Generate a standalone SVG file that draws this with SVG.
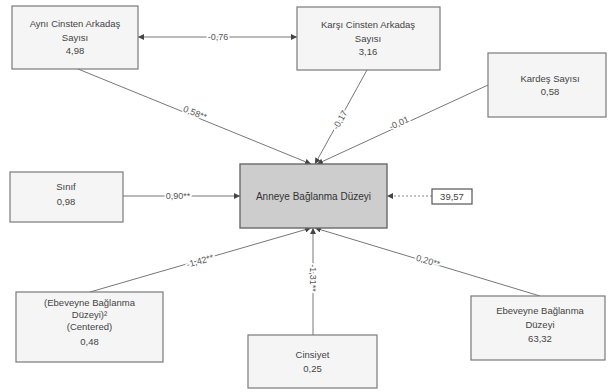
<svg xmlns="http://www.w3.org/2000/svg" width="608" height="392" viewBox="0 0 608 392">
<style>
.box{fill:#f5f5f5;stroke:#7a7a7a;stroke-width:1.2}
.main{fill:#cdcdcd;stroke:#6a6a6a;stroke-width:1.4}
.t{font-family:"Liberation Sans",Arial,sans-serif;font-size:9.5px;fill:#444;text-anchor:middle}
.tm{font-family:"Liberation Sans",Arial,sans-serif;font-size:10px;fill:#333;text-anchor:middle}
.lbl{font-family:"Liberation Sans",Arial,sans-serif;font-size:9px;fill:#555;text-anchor:middle;stroke:#fff;stroke-width:3;paint-order:stroke}
.ln{stroke:#777;stroke-width:1;fill:none}
.dash{stroke:#888;stroke-width:1;fill:none;stroke-dasharray:2 2}
</style>
<defs>
<marker id="ah" viewBox="0 0 8 8" refX="8" refY="4" markerWidth="6" markerHeight="6" orient="auto-start-reverse" markerUnits="userSpaceOnUse">
<path d="M0,0 L8,4 L0,8 z" fill="#444"/>
</marker>
</defs>
<rect width="608" height="392" fill="#fff"/>
<g id="connectors">
<line class="ln" x1="138" y1="37" x2="297" y2="37" marker-start="url(#ah)" marker-end="url(#ah)"/>
<line class="ln" x1="78" y1="69" x2="311" y2="164" marker-end="url(#ah)"/>
<line class="ln" x1="367" y1="70" x2="315" y2="164" marker-end="url(#ah)"/>
<line class="ln" x1="488" y1="85" x2="317" y2="164" marker-end="url(#ah)"/>
<line class="ln" x1="123" y1="196" x2="240" y2="196" marker-end="url(#ah)"/>
<line class="dash" x1="432" y1="196" x2="387" y2="196" marker-end="url(#ah)"/>
<line class="ln" x1="90" y1="292" x2="311" y2="228" marker-end="url(#ah)"/>
<line class="ln" x1="313" y1="335" x2="313" y2="228" marker-end="url(#ah)"/>
<line class="ln" x1="540" y1="296" x2="315" y2="228" marker-end="url(#ah)"/>
<text class="lbl" x="218" y="40">-0,76</text>
<text class="lbl" x="195" y="116" transform="rotate(21.5 195 113)">0,58**</text>
<text class="lbl" x="340" y="123" transform="rotate(-60 340 120)">-0,17</text>
<text class="lbl" x="399" y="126" transform="rotate(-24.3 399 123)">-0,01</text>
<text class="lbl" x="178" y="199">0,90**</text>
<text class="lbl" x="200" y="264" transform="rotate(-16 200 261)">-1,42**</text>
<text class="lbl" x="313" y="281" transform="rotate(90 313 278)">-1,31**</text>
<text class="lbl" x="428" y="264" transform="rotate(16.5 428 261)">0,20**</text>
</g>
<g id="n_ayni">
<rect class="box" x="12" y="6" width="126" height="63"/>
<text class="t" x="75" y="26.5">Aynı Cinsten Arkadaş</text>
<text class="t" x="75" y="40.5">Sayısı</text>
<text class="t" x="75" y="54">4,98</text>
</g>
<g id="n_karsi">
<rect class="box" x="297" y="7" width="143" height="63"/>
<text class="t" x="368" y="28">Karşı Cinsten Arkadaş</text>
<text class="t" x="368" y="42">Sayısı</text>
<text class="t" x="368" y="55">3,16</text>
</g>
<g id="n_kardes">
<rect class="box" x="488" y="53" width="118" height="64"/>
<text class="t" x="550" y="82">Kardeş Sayısı</text>
<text class="t" x="550" y="95">0,58</text>
</g>
<g id="n_sinif">
<rect class="box" x="10" y="172" width="113" height="50"/>
<text class="t" x="66" y="190">Sınıf</text>
<text class="t" x="66" y="205">0,98</text>
</g>
<g id="n_anne">
<rect class="main" x="240" y="164" width="147" height="64"/>
<text class="tm" x="313.5" y="199.5">Anneye Bağlanma Düzeyi</text>
</g>
<g id="n_sabit">
<rect x="432" y="189" width="40" height="15" fill="#fff" stroke="#555" stroke-width="1.2"/>
<text class="t" x="452" y="200">39,57</text>
</g>
<g id="n_ebeveyne2">
<rect class="box" x="16" y="292" width="147" height="70"/>
<text class="t" x="89.5" y="306">(Ebeveyne Bağlanma</text>
<text class="t" x="89.5" y="318">Düzeyi)²</text>
<text class="t" x="89.5" y="330">(Centered)</text>
<text class="t" x="89.5" y="345">0,48</text>
</g>
<g id="n_cinsiyet">
<rect class="box" x="248" y="335" width="129" height="53"/>
<text class="t" x="312.5" y="358">Cinsiyet</text>
<text class="t" x="312.5" y="372">0,25</text>
</g>
<g id="n_ebeveyne">
<rect class="box" x="471" y="296" width="134" height="64"/>
<text class="t" x="540" y="314">Ebeveyne Bağlanma</text>
<text class="t" x="540" y="328">Düzeyi</text>
<text class="t" x="540" y="342">63,32</text>
</g>
</svg>
